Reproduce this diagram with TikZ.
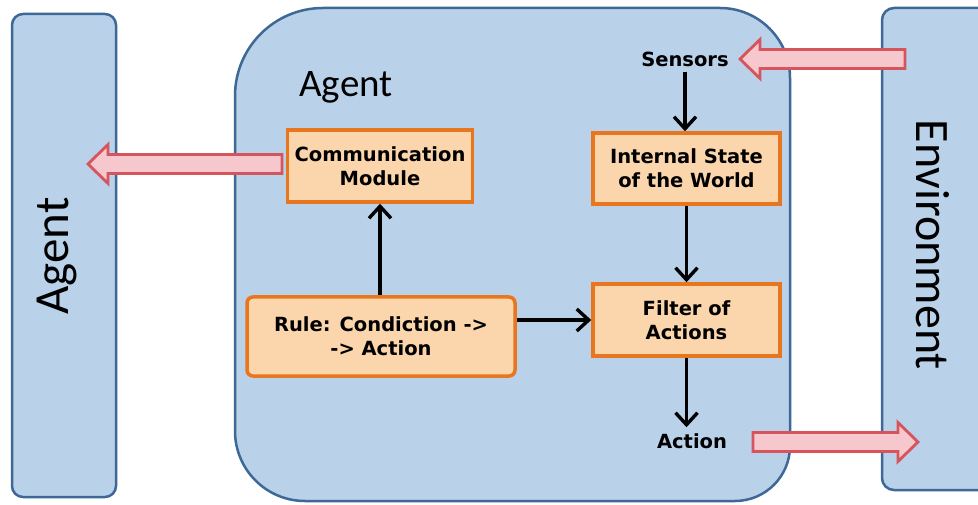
\documentclass[tikz,border=0pt]{standalone}
\usepackage{fontspec}
\setmainfont{DejaVu Sans}
\newfontfamily\bigfont{Carlito}
\usetikzlibrary{arrows.meta,calc}
\definecolor{bluefill}{RGB}{185,210,234}
\definecolor{blueline}{RGB}{62,104,150}
\definecolor{orfill}{RGB}{251,214,172}
\definecolor{orline}{RGB}{232,118,30}
\definecolor{pkfill}{RGB}{246,200,205}
\definecolor{pkline}{RGB}{214,84,92}
\tikzset{
  bluebox/.style={draw=blueline, fill=bluefill, line width=2.5pt},
  obox/.style={draw=orline, fill=orfill, line width=3.5pt, align=center, inner sep=0pt,
    font=\bfseries\fontsize{19.5}{24}\selectfont},
  lbl/.style={inner sep=0pt, font=\bfseries\fontsize{19.5}{24}\selectfont},
  bigarr/.style={draw=pkline, fill=pkfill, line width=2.8pt, line join=miter},
  arr/.style={line width=3.4pt, -{Straight Barb[length=12pt,width=22pt,line width=3.4pt]}}
}
\newcommand\blockarrow[2]{%
  \draw[bigarr] let \p1=(#1), \p2=(#2), \n1={(\x2>\x1)*2-1} in
  (\x1,\y1+9.5pt) -- (\x2-\n1*20pt,\y1+9.5pt) -- (\x2-\n1*20pt,\y1+19.5pt) -- (\x2,\y1)
  -- (\x2-\n1*20pt,\y1-19.5pt) -- (\x2-\n1*20pt,\y1-9.5pt) -- (\x1,\y1-9.5pt) -- cycle;}
\begin{document}
\begin{tikzpicture}[x=1pt,y=-1pt]
\useasboundingbox (0,0) rectangle (978,505);
\clip (0,0) rectangle (978,505);
\fill[white] (0,0) rectangle (978,505);
% outer boxes
\draw[bluebox, rounded corners=11pt] (12,14) rectangle (116,497);
\draw[bluebox, rounded corners=12pt] (882,8) rectangle (1000,490);
\draw[bluebox] (235,250) [rounded corners=88pt] -- (235,8) [rounded corners=70pt] -- (790,8) [rounded corners=55pt] -- (790,501) [rounded corners=70pt] -- (235,501) [sharp corners] -- cycle;
% big labels
\node[inner sep=0pt, font=\bigfont\fontsize{39}{39}\selectfont] (agentlbl) at (346,87) {Agent};
\node[inner sep=0pt, rotate=90, font=\bigfont\fontsize{49}{49}\selectfont] (leftagent) at (57,256) {Agent};
\node[inner sep=0pt, rotate=-90, font=\bigfont\fontsize{48}{48}\selectfont] (env) at (933,245) {Environment};
% inner boxes
\node[obox, minimum width=185pt, minimum height=72pt] (comm) at (380,166) {Communication\\Module};
\node[obox, minimum width=187pt, minimum height=71pt] (state) at (686.5,168.5) {Internal State\\of the World};
\node[obox, minimum width=187pt, minimum height=72pt] (filter) at (686.5,320) {Filter of\\Actions};
\node[obox, rounded corners=6pt, minimum width=268pt, minimum height=79pt] (rule) at (381,336.5) {Rule: Condiction ->\\-> Action};
\node[lbl] (sensors) at (685,59) {Sensors};
\node[lbl] (action) at (692,441) {Action};
% black arrows
\draw[arr] (sensors.south) ++(0,5) coordinate (s1) -- (s1 |- state.north);
\draw[arr] (state.south) -- (filter.north);
\draw[arr] (filter.south) -- ($(filter.south |- action.north)+(0,-6)$) coordinate (a1);
\draw[arr] (rule.east |- filter.west) -- (filter.west);
\draw[arr] (rule.north -| comm.south) -- (comm.south);
% block arrows
\coordinate (commtail) at (282,164);
\coordinate (agenttip) at (88,164);
\coordinate (envtail) at (905,59);
\coordinate (senstip) at (740,59);
\coordinate (acttail) at (753,442);
\coordinate (envtip) at (918,442);
\blockarrow{commtail}{agenttip}
\blockarrow{envtail}{senstip}
\blockarrow{acttail}{envtip}
\end{tikzpicture}
\end{document}
